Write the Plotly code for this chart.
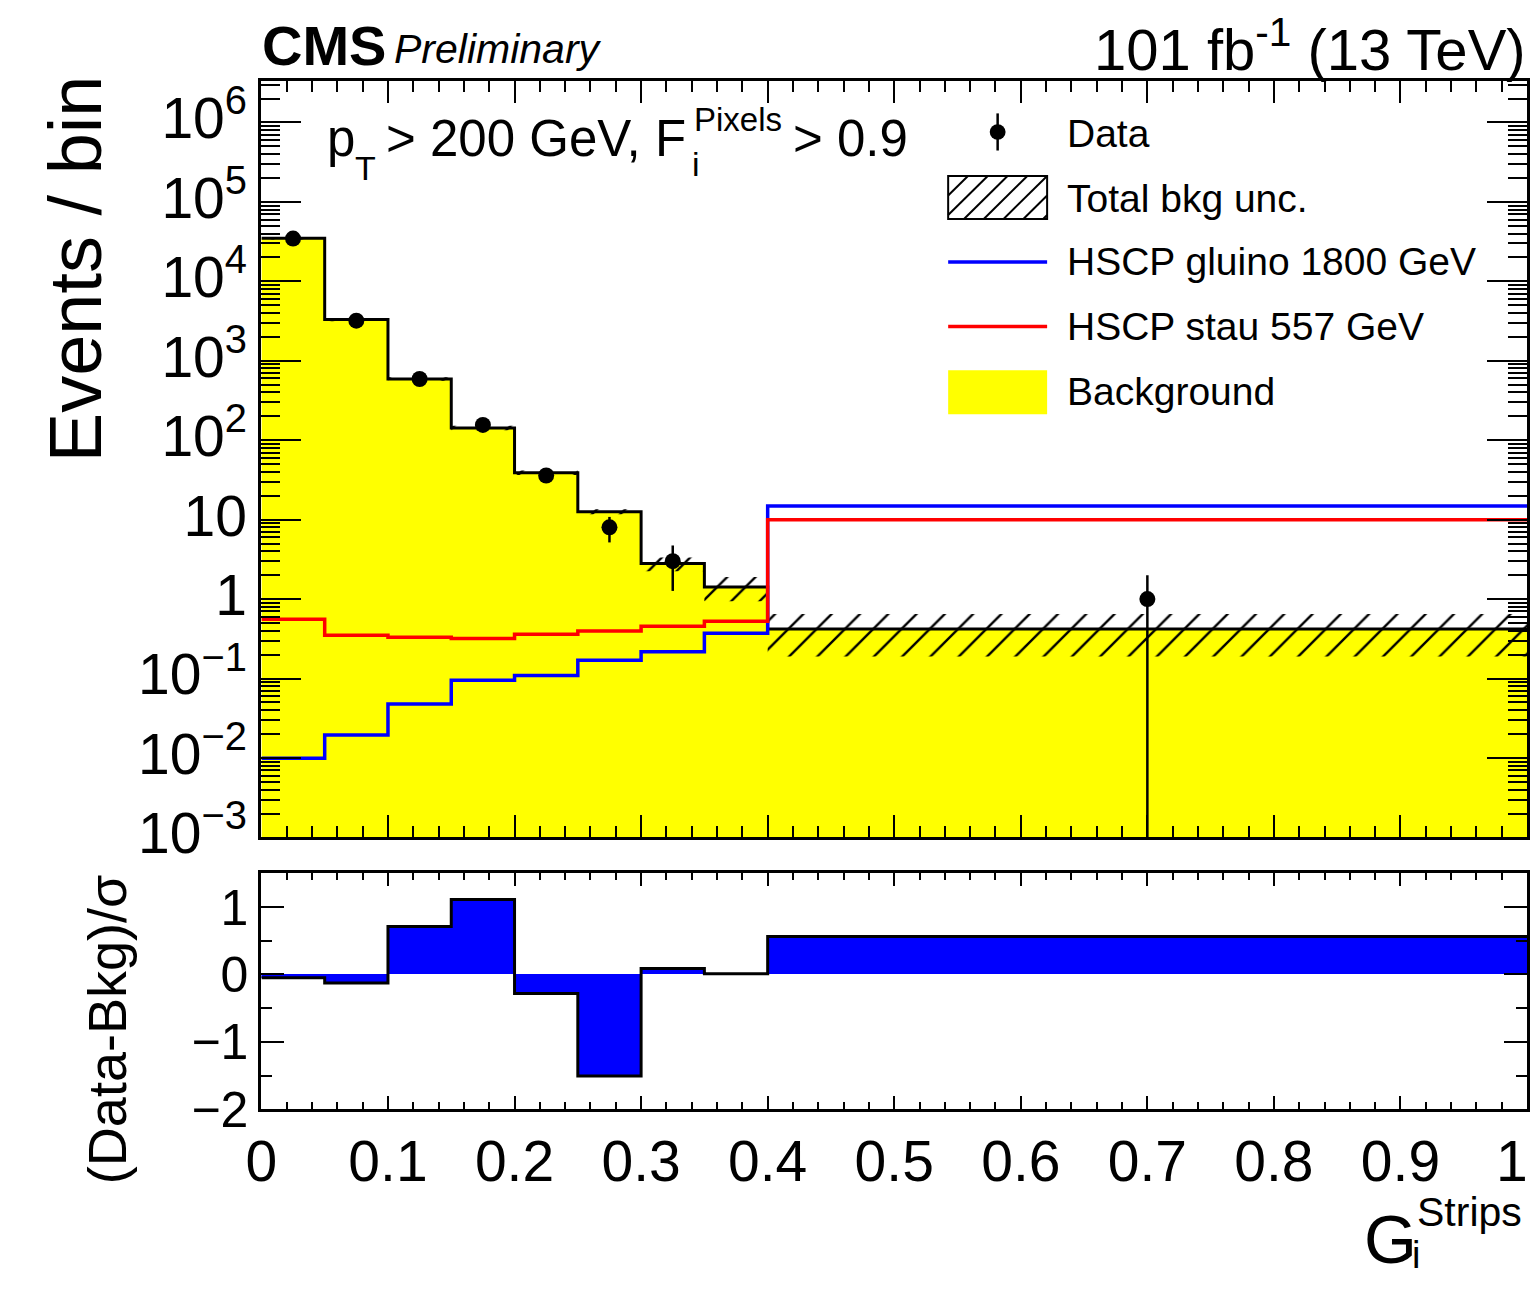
import numpy as np
import plotly.graph_objects as go

W, H = 1532, 1311
FONT = "Liberation Sans, Arial, Helvetica, sans-serif"

# ---- histogram content -------------------------------------------------
bin_edges = [0.0, 0.05, 0.10, 0.15, 0.20, 0.25, 0.30, 0.35, 0.40, 1.0]

bkg = [34800, 3300, 590, 143, 39, 12.6, 2.8, 1.42, 0.42]
bkg_unc = [1200, 150, 30, 9, 2.5, 0.9, 0.55, 0.48, 0.23]
gluino_1800 = [0.0099, 0.0195, 0.048, 0.095, 0.109, 0.170, 0.217, 0.371, 14.9]
stau_557 = [0.557, 0.35, 0.33, 0.32, 0.36, 0.397, 0.457, 0.527, 10.0]
data_counts = [34500, 3200, 590, 156, 36, 8, 3, 0, 1]
pull = [-0.05, -0.125, 0.71, 1.11, -0.284, -1.505, 0.087, 0.01, 0.563]

y_tick_vals = [1e-3, 1e-2, 1e-1, 1, 10, 1e2, 1e3, 1e4, 1e5, 1e6]
y_tick_text = ["10<sup>\u22123</sup>", "10<sup>\u22122</sup>", "10<sup>\u22121</sup>", "1", "10",
               "10<sup>2</sup>", "10<sup>3</sup>", "10<sup>4</sup>", "10<sup>5</sup>", "10<sup>6</sup>"]
x_tick_vals = [0.0, 0.1, 0.2, 0.3, 0.4, 0.5, 0.6, 0.7, 0.8, 0.9]
x_tick_text = ["0", "0.1", "0.2", "0.3", "0.4", "0.5", "0.6", "0.7", "0.8", "0.9"]
pull_tick_vals = [-2, -1, 0, 1]

edges = np.array(bin_edges)
centers = 0.5 * (edges[:-1] + edges[1:])
widths = np.diff(edges)


def step_xy(vals):
    xs, ys = [], []
    for i, v in enumerate(vals):
        xs += [edges[i], edges[i + 1]]
        ys += [v, v]
    return xs, ys


def px(x):
    return x / W


def py(y):
    return 1 - y / H


fig = go.Figure()

# background: yellow filled histogram
bx, by = step_xy(bkg)
fig.add_trace(go.Scatter(x=bx + [edges[-1], edges[0]], y=by + [1e-6, 1e-6],
                         fill="toself", fillcolor="#ffff00", mode="lines",
                         line=dict(width=0), hoverinfo="skip", showlegend=False))

# total background uncertainty: hatched boxes per bin
hx, hy = [], []
for i, (b, u) in enumerate(zip(bkg, bkg_unc)):
    lo, hi = b - u, b + u
    hx += [edges[i], edges[i + 1], edges[i + 1], edges[i], edges[i], None]
    hy += [lo, lo, hi, hi, lo, None]
hatch = dict(shape="/", fgcolor="black", bgcolor="rgba(0,0,0,0)", size=20,
             solidity=0.12, fgopacity=1)
fig.add_trace(go.Scatter(x=hx, y=hy, fill="toself", fillcolor="rgba(0,0,0,0)",
                         fillpattern=hatch, mode="lines", line=dict(width=0),
                         hoverinfo="skip", showlegend=False))

# background outline
fig.add_trace(go.Scatter(x=bx, y=by, mode="lines", line=dict(color="black", width=3),
                         hoverinfo="skip", showlegend=False))

# signal templates
gx, gy = step_xy(gluino_1800)
fig.add_trace(go.Scatter(x=gx, y=gy, mode="lines", line=dict(color="#0000ff", width=3.5),
                         showlegend=False))
sx, sy = step_xy(stau_557)
fig.add_trace(go.Scatter(x=sx, y=sy, mode="lines", line=dict(color="#ff0000", width=3.5),
                         showlegend=False))

# observed data (the lower error of a single count is drawn down to the frame)
mask = [n > 0 for n in data_counts]
dx = [c for c, m in zip(centers, mask) if m]
dy = [n for n, m in zip(data_counts, mask) if m]
derr = [float(np.sqrt(n)) for n in dy]
derr_lo = [min(e, 0.9999 * n) for e, n in zip(derr, dy)]
fig.add_trace(go.Scatter(x=dx, y=dy, mode="markers",
                         marker=dict(color="black", size=16),
                         error_y=dict(type="data", array=derr, arrayminus=derr_lo,
                                      color="black", thickness=2.5, width=0),
                         showlegend=False))

# lower panel: (Data-Bkg)/sigma
fig.add_trace(go.Bar(x=centers, y=pull, width=widths, base=0,
                     marker=dict(color="#0000ff", line=dict(width=0)),
                     xaxis="x2", yaxis="y2", showlegend=False))
rx, ry = step_xy(pull)
fig.add_trace(go.Scatter(x=rx, y=ry, mode="lines", line=dict(color="black", width=3),
                         xaxis="x2", yaxis="y2", showlegend=False))

# ---- legend swatches as paper shapes ------------------------------------
shapes = []


def pline(x0, y0, x1, y1, color, width):
    shapes.append(dict(type="line", xref="paper", yref="paper",
                       x0=px(x0), y0=py(y0), x1=px(x1), y1=py(y1),
                       line=dict(color=color, width=width)))


def prect(x0, y0, x1, y1, fill, line_color=None, line_width=0):
    shapes.append(dict(type="rect", xref="paper", yref="paper",
                       x0=px(x0), y0=py(y0), x1=px(x1), y1=py(y1),
                       fillcolor=fill, line=dict(color=line_color or "rgba(0,0,0,0)",
                                                 width=line_width)))


sw_x0, sw_x1 = 942, 1042

# Data: dot with vertical error bar
pline(992, 114, 992, 152, "black", 2.5)
shapes.append(dict(type="circle", xref="paper", yref="paper",
                   x0=px(984), x1=px(1000), y0=py(141), y1=py(125),
                   fillcolor="black", line=dict(color="black", width=0)))

# Total bkg unc.: hatched box
hb_top, hb_bot = 178, 222
hb_h = hb_bot - hb_top
for start in range(sw_x0 - hb_h, sw_x1, 20):
    t0 = max(0.0, (sw_x0 - start) / hb_h)
    t1 = min(1.0, (sw_x1 - start) / hb_h)
    if t1 > t0:
        pline(start + hb_h * t0, hb_bot - hb_h * t0,
              start + hb_h * t1, hb_bot - hb_h * t1, "black", 2)
prect(sw_x0, hb_top, sw_x1, hb_bot, "rgba(0,0,0,0)", "black", 2)

# signal lines
pline(sw_x0, 266, sw_x1, 266, "#0000ff", 3.5)
pline(sw_x0, 332, sw_x1, 332, "#ff0000", 3.5)

# Background: yellow box
prect(sw_x0, 377, sw_x1, 422, "#ffff00")

legend_entries = [("Data", 135), ("Total bkg unc.", 201), ("HSCP gluino 1800 GeV", 266),
                  ("HSCP stau 557 GeV", 332), ("Background", 399)]

annotations = []


def label(x, y, text, size, xanchor="left", yanchor="middle", angle=0):
    annotations.append(dict(x=px(x), y=py(y), xref="paper", yref="paper", text=text,
                            showarrow=False, xanchor=xanchor, yanchor=yanchor,
                            textangle=angle,
                            font=dict(family=FONT, size=size, color="black")))


for txt, yy in legend_entries:
    label(1060, yy, txt, 39)

# header
label(247, 45, "<b>CMS</b>", 56)
label(380, 48, "<i>Preliminary</i>", 41)
label(1528, 45, "101 fb<sup>-1</sup> (13 TeV)", 58, xanchor="right")

# selection text
label(312, 140, "p", 51)
label(341, 170, "T", 34)
label(372, 140, "> 200 GeV, F", 51)
label(683, 120, "Pixels", 33)
label(681, 166, "i", 34)
label(783, 140, "> 0.9", 51)

# axis titles
label(60, 73, "Events / bin", 74, xanchor="center", yanchor="top", angle=-90)
label(92, 892, "(Data-Bkg)/\u03c3", 54, xanchor="center", yanchor="top", angle=-90)
label(1360, 1266, "G", 68)
label(1414, 1238, "Strips", 41)
label(1409, 1306, "i", 38, yanchor="bottom")
# last x label, kept inside the page at its right edge
label(1530, 1186, "1", 57, xanchor="right")

xdom = [px(248), px(1527)]
common = dict(showline=True, linecolor="black", linewidth=3, mirror="allticks",
              ticks="inside", tickcolor="black", tickwidth=2, showgrid=False,
              zeroline=False, tickfont=dict(family=FONT, size=57, color="black"))

minor_logs = [m * 10.0 ** e for e in range(-3, 7) for m in range(2, 10)]

fig.update_layout(
    width=W, height=H,
    margin=dict(l=0, r=0, t=0, b=0),
    paper_bgcolor="white", plot_bgcolor="rgba(0,0,0,0)",
    font=dict(family=FONT, color="black"),
    showlegend=False, bargap=0,
    shapes=shapes,
    xaxis=dict(domain=xdom, range=[0, 1], anchor="y", dtick=0.1, tick0=0,
               ticklen=22, showticklabels=False,
               minor=dict(ticks="inside", ticklen=11, tickwidth=2, tickcolor="black",
                          dtick=0.02, tick0=0),
               **common),
    yaxis=dict(domain=[py(855), py(81)], type="log", range=[-3, 6.52], anchor="x",
               tickmode="array", tickvals=y_tick_vals, ticktext=y_tick_text,
               ticklen=40, ticklabelshift=-4,
               minor=dict(ticks="inside", ticklen=19, tickwidth=2, tickcolor="black",
                          tickmode="array", tickvals=minor_logs),
               **common),
    xaxis2=dict(domain=xdom, range=[0, 1], anchor="y2",
                tickmode="array", tickvals=x_tick_vals, ticktext=x_tick_text,
                ticklen=13,
                minor=dict(ticks="inside", ticklen=7, tickwidth=2, tickcolor="black",
                           tickmode="linear", dtick=0.02, tick0=0),
                **common),
    yaxis2=dict(domain=[py(1133.3), py(891.7)], range=[-2, 1.5], anchor="x2",
                tickmode="array", tickvals=pull_tick_vals, ticklen=23,
                minor=dict(ticks="inside", ticklen=11, tickwidth=2, tickcolor="black",
                           tickmode="linear", dtick=0.5, tick0=0),
                **{**common, "tickfont": dict(family=FONT, size=50, color="black")}),
    annotations=annotations,
)

# page styling: figure flush with the window
page_style = """
(function () {
  var gd = document.getElementById('{plot_id}');
  document.documentElement.style.margin = '0';
  document.documentElement.style.padding = '0';
  document.documentElement.style.overflow = 'hidden';
  document.body.style.margin = '0';
  document.body.style.padding = '0';
  document.body.style.overflow = 'hidden';
  gd.style.overflow = 'hidden';
})();
"""
fig.write_html("out.html", post_script=page_style)
